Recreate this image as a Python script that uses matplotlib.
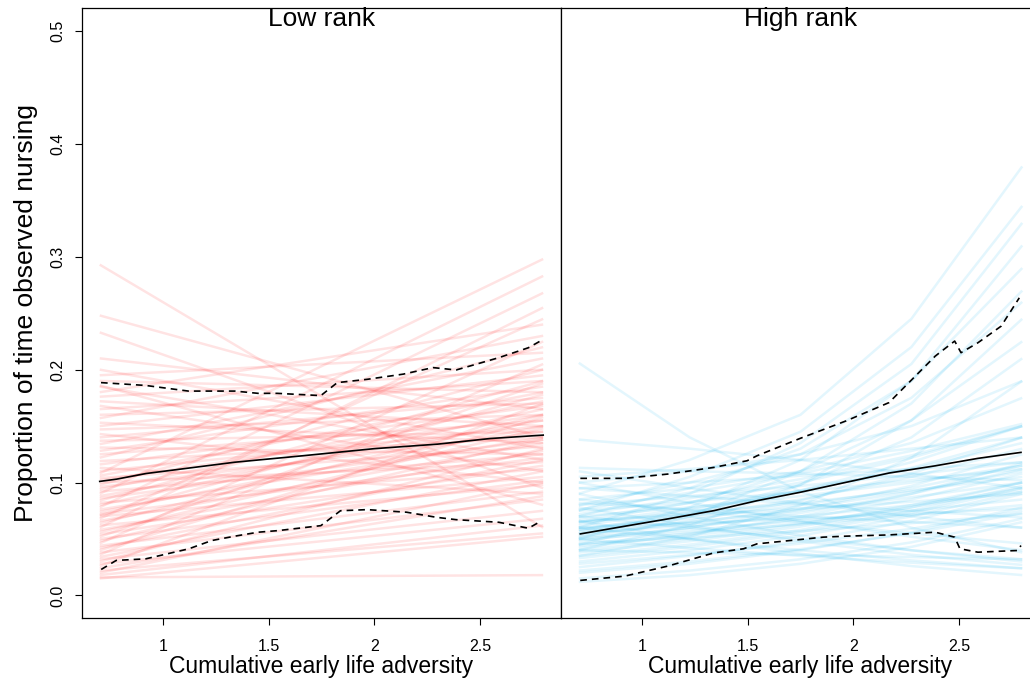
import matplotlib
matplotlib.use("Agg")
import matplotlib.pyplot as plt

plt.rcParams['font.family'] = ['Liberation Sans', 'DejaVu Sans']

# x positions of the model predictions
x_low = [0.7, 2.8]
x_high = [0.7, 1.225, 1.75, 2.275, 2.8]

# posterior draws, low rank: value at x=0.7 and at x=2.8
low_start = [0.293, 0.248, 0.233, 0.210, 0.200, 0.195, 0.190, 0.185, 0.180, 0.176,
             0.172, 0.168, 0.165, 0.160, 0.157, 0.153, 0.150, 0.147, 0.143, 0.140,
             0.137, 0.134, 0.131, 0.128, 0.125, 0.122, 0.119, 0.116, 0.113, 0.110,
             0.108, 0.106, 0.104, 0.102, 0.100, 0.098, 0.096, 0.094, 0.092, 0.090,
             0.088, 0.086, 0.084, 0.082, 0.080, 0.078, 0.076, 0.074, 0.072, 0.071,
             0.070, 0.068, 0.066, 0.064, 0.062, 0.060, 0.058, 0.056, 0.054, 0.052,
             0.050, 0.048, 0.046, 0.044, 0.042, 0.040, 0.038, 0.036, 0.034, 0.032,
             0.030, 0.028, 0.026, 0.024, 0.022, 0.020, 0.018, 0.016, 0.015, 0.186]
low_end = [0.060, 0.140, 0.095, 0.165, 0.130, 0.215, 0.180, 0.120, 0.240, 0.200,
           0.150, 0.110, 0.190, 0.170, 0.230, 0.135, 0.195, 0.160, 0.100, 0.175,
           0.145, 0.210, 0.125, 0.185, 0.155, 0.220, 0.140, 0.168, 0.090, 0.150,
           0.298, 0.180, 0.132, 0.160, 0.118, 0.200, 0.145, 0.172, 0.125, 0.283,
           0.155, 0.138, 0.190, 0.112, 0.165, 0.268, 0.140, 0.150, 0.122, 0.178,
           0.105, 0.245, 0.135, 0.160, 0.098, 0.255, 0.128, 0.148, 0.115, 0.188,
           0.102, 0.138, 0.225, 0.092, 0.120, 0.158, 0.085, 0.205, 0.110, 0.075,
           0.130, 0.068, 0.170, 0.088, 0.055, 0.100, 0.062, 0.018, 0.052, 0.080]

# posterior draws, high rank: values at x_high
high_draws = [
    [0.090, 0.120, 0.160, 0.245, 0.380], [0.075, 0.105, 0.145, 0.220, 0.345],
    [0.060, 0.090, 0.135, 0.205, 0.330], [0.050, 0.078, 0.120, 0.190, 0.310],
    [0.070, 0.095, 0.130, 0.190, 0.290], [0.045, 0.070, 0.110, 0.170, 0.270],
    [0.080, 0.100, 0.125, 0.175, 0.260], [0.040, 0.062, 0.098, 0.155, 0.245],
    [0.065, 0.082, 0.110, 0.155, 0.225], [0.055, 0.072, 0.098, 0.140, 0.210],
    [0.100, 0.110, 0.125, 0.150, 0.190], [0.035, 0.052, 0.080, 0.122, 0.190],
    [0.085, 0.095, 0.110, 0.135, 0.175], [0.060, 0.068, 0.080, 0.095, 0.115],
    [0.050, 0.060, 0.073, 0.090, 0.112], [0.070, 0.078, 0.088, 0.100, 0.115],
    [0.045, 0.055, 0.068, 0.085, 0.108], [0.058, 0.070, 0.085, 0.105, 0.130],
    [0.065, 0.073, 0.082, 0.093, 0.105], [0.040, 0.050, 0.063, 0.080, 0.100],
    [0.075, 0.083, 0.092, 0.102, 0.112], [0.055, 0.062, 0.070, 0.080, 0.092],
    [0.048, 0.060, 0.076, 0.097, 0.125], [0.062, 0.075, 0.092, 0.113, 0.140],
    [0.052, 0.066, 0.084, 0.108, 0.140], [0.068, 0.082, 0.100, 0.122, 0.150],
    [0.038, 0.048, 0.061, 0.078, 0.100], [0.057, 0.065, 0.075, 0.087, 0.100],
    [0.080, 0.088, 0.097, 0.107, 0.118], [0.044, 0.053, 0.064, 0.078, 0.095],
    [0.066, 0.071, 0.077, 0.083, 0.090], [0.050, 0.056, 0.063, 0.071, 0.080],
    [0.072, 0.086, 0.103, 0.124, 0.150], [0.035, 0.045, 0.058, 0.075, 0.097],
    [0.060, 0.064, 0.068, 0.072, 0.077], [0.046, 0.051, 0.057, 0.064, 0.072],
    [0.054, 0.064, 0.077, 0.092, 0.110], [0.030, 0.040, 0.053, 0.070, 0.092],
    [0.064, 0.077, 0.093, 0.112, 0.135], [0.042, 0.054, 0.070, 0.090, 0.117],
    [0.058, 0.073, 0.093, 0.118, 0.150], [0.076, 0.091, 0.108, 0.128, 0.152],
    [0.033, 0.043, 0.056, 0.073, 0.095], [0.052, 0.058, 0.066, 0.075, 0.085],
    [0.095, 0.100, 0.106, 0.112, 0.118], [0.105, 0.112, 0.120, 0.130, 0.140],
    [0.113, 0.110, 0.108, 0.105, 0.102], [0.025, 0.035, 0.048, 0.066, 0.090],
    [0.028, 0.036, 0.046, 0.059, 0.075], [0.020, 0.028, 0.040, 0.056, 0.078],
    [0.015, 0.022, 0.032, 0.047, 0.068], [0.012, 0.018, 0.028, 0.043, 0.065],
    [0.022, 0.030, 0.041, 0.055, 0.073], [0.206, 0.140, 0.092, 0.060, 0.038],
    [0.138, 0.130, 0.120, 0.108, 0.095], [0.085, 0.075, 0.065, 0.055, 0.046],
    [0.070, 0.060, 0.050, 0.040, 0.032], [0.100, 0.082, 0.066, 0.052, 0.040],
    [0.060, 0.050, 0.040, 0.031, 0.024], [0.078, 0.062, 0.048, 0.036, 0.027],
    [0.050, 0.042, 0.035, 0.029, 0.024], [0.090, 0.070, 0.053, 0.040, 0.030],
    [0.066, 0.050, 0.037, 0.026, 0.018], [0.110, 0.095, 0.082, 0.070, 0.060],
    [0.040, 0.038, 0.036, 0.034, 0.032], [0.095, 0.088, 0.081, 0.075, 0.069],
    [0.082, 0.076, 0.070, 0.065, 0.060],
]

# median and 95% interval, low rank
low_med_x = [0.7, 0.78, 0.92, 1.13, 1.34, 1.65, 2.0, 2.3, 2.55, 2.8]
low_med_y = [0.101, 0.103, 0.108, 0.113, 0.118, 0.1235, 0.130, 0.134, 0.139, 0.142]
low_hi_x = [0.706, 0.917, 1.12, 1.34, 1.45, 1.54, 1.747, 1.825, 1.966, 2.137,
            2.278, 2.388, 2.59, 2.73, 2.786]
low_hi_y = [0.1885, 0.186, 0.181, 0.181, 0.179, 0.179, 0.177, 0.1885, 0.1914, 0.196,
            0.2018, 0.1997, 0.2106, 0.2194, 0.2253]
low_lo_x = [0.707, 0.778, 0.918, 1.122, 1.23, 1.34, 1.45, 1.544, 1.747, 1.84,
            1.966, 2.153, 2.294, 2.388, 2.59, 2.73, 2.786]
low_lo_y = [0.023, 0.031, 0.0324, 0.0413, 0.0486, 0.0525, 0.056, 0.0574, 0.0618, 0.075,
            0.076, 0.0737, 0.0692, 0.0671, 0.0648, 0.0595, 0.0654]

# median and 95% interval, high rank
high_med_x = [0.7075, 0.918, 1.122, 1.34, 1.544, 1.747, 1.966, 2.169, 2.388, 2.59, 2.794]
high_med_y = [0.0545, 0.0613, 0.0678, 0.0751, 0.0839, 0.0913, 0.1002, 0.1084, 0.1148,
              0.1214, 0.1267]
high_hi_x = [0.7075, 0.918, 1.122, 1.34, 1.497, 1.544, 1.747, 1.966, 2.169, 2.388,
             2.48, 2.51, 2.59, 2.7, 2.786]
high_hi_y = [0.1037, 0.1037, 0.1075, 0.1134, 0.1193, 0.1237, 0.139, 0.1546, 0.1708,
             0.212, 0.2253, 0.215, 0.2238, 0.2385, 0.2636]
high_lo_x = [0.707, 0.918, 1.122, 1.34, 1.48, 1.544, 1.747, 1.856, 1.966, 2.169,
             2.388, 2.48, 2.505, 2.59, 2.778, 2.794]
high_lo_y = [0.0133, 0.0171, 0.026, 0.0377, 0.0413, 0.0457, 0.0495, 0.0516, 0.0525,
             0.0536, 0.056, 0.0516, 0.0413, 0.0383, 0.0398, 0.0442]

xticks = [1, 1.5, 2, 2.5]
xtick_labels = ['1', '1.5', '2', '2.5']
yticks = [0.0, 0.1, 0.2, 0.3, 0.4, 0.5]

fig = plt.figure(figsize=(10.3, 6.85), dpi=100)
ax1 = fig.add_axes([0.0796, 0.0978, 0.465, 0.890])
ax2 = fig.add_axes([0.5447, 0.0978, 0.465, 0.890])

for s, e in zip(low_start, low_end):
    ax1.plot(x_low, [s, e], color='#FF0000', alpha=0.11, lw=1.8, solid_capstyle='butt')
for d in high_draws:
    ax2.plot(x_high, d, color='#00AEEF', alpha=0.11, lw=1.8, solid_capstyle='butt')

dash = (0, (4, 3))
ax1.plot(low_med_x, low_med_y, color='black', lw=1.2)
ax1.plot(low_hi_x, low_hi_y, color='black', lw=1.2, ls=dash)
ax1.plot(low_lo_x, low_lo_y, color='black', lw=1.2, ls=dash)
ax2.plot(high_med_x, high_med_y, color='black', lw=1.2)
ax2.plot(high_hi_x, high_hi_y, color='black', lw=1.2, ls=dash)
ax2.plot(high_lo_x, high_lo_y, color='black', lw=1.2, ls=dash)

for ax, title in [(ax1, 'Low rank'), (ax2, 'High rank')]:
    ax.set_xlim(0.616, 2.884)
    ax.set_ylim(-0.02, 0.52)
    ax.set_xticks(xticks)
    ax.set_xticklabels(xtick_labels)
    ax.tick_params(axis='x', direction='out', length=5, width=0.8, pad=10, labelsize=11.5)
    ax.set_xlabel('Cumulative early life adversity', fontsize=16.5, labelpad=1)
    ax.text(0.5, 0.982, title, transform=ax.transAxes, ha='center', va='center',
            fontsize=19)
    for sp in ax.spines.values():
        sp.set_linewidth(0.9)

ax1.set_yticks(yticks)
ax1.set_yticklabels(['0.0', '0.1', '0.2', '0.3', '0.4', '0.5'], rotation=90, va='center')
ax1.tick_params(axis='y', direction='out', length=5, width=0.8, pad=7, labelsize=11.5)
ax1.set_ylabel('Proportion of time observed nursing', fontsize=19, labelpad=9)
ax2.set_yticks([])

fig.savefig('out.png', dpi=100)
